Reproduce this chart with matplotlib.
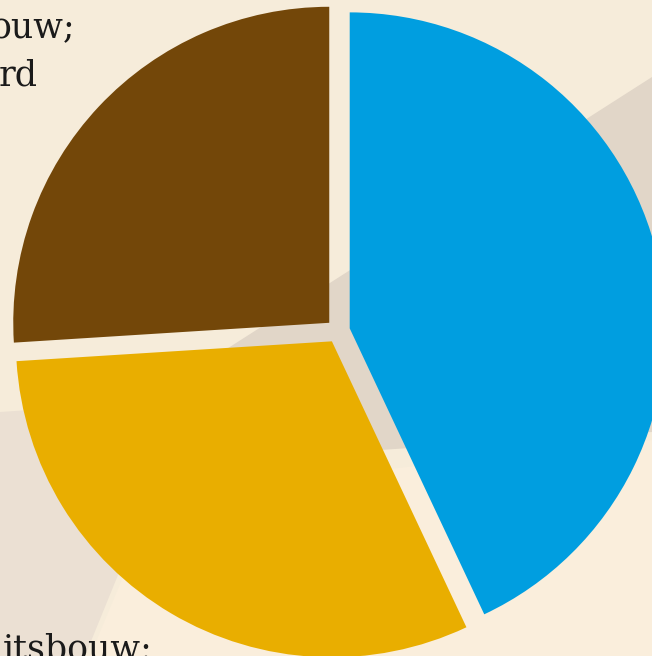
#!/usr/bin/env python3
"""Exploded pie chart on a beige, lightly shaded background (cropped view)."""

import matplotlib

matplotlib.use("Agg")
import matplotlib.pyplot as plt
from matplotlib.patches import Polygon

# slice shares (percent), clockwise from 12 o'clock
SHARES = [43, 31, 26]
SLICE_COLORS = ["#009EE0", "#E9AE00", "#734709"]

# label fragments that are cut off by the frame
LABEL_TOP = ["ouw;", "rd"]
LABEL_BOTTOM = "itsbouw:"

BG = "#F6ECDA"
W, H = 652, 656


def add_background(ax):
    ax.add_patch(Polygon([(0, 0), (W, 0), (W, H), (0, H)], closed=True,
                         fc=BG, ec="none", zorder=0))
    # lighter lower area
    ax.add_patch(Polygon([(90, 0), (W, 0), (W, H - 440), (380, H - 470), (130, H - 560)],
                         closed=True, fc="#FAEEDC", ec="none", zorder=0.5))
    # darker diagonal band behind the pie
    ax.add_patch(Polygon([(150, H - 398), (W, H - 77), (W, H - 432), (380, H - 450), (150, H - 470)],
                         closed=True, fc="#E1D6C8", ec="none", zorder=0.6))
    # soft shade bottom-left
    ax.add_patch(Polygon([(0, H - 412), (60, H - 408), (118, H - 575), (85, 0), (0, 0)],
                         closed=True, fc="#EBE0D3", ec="none", zorder=0.7))


def main():
    fig = plt.figure(figsize=(W / 100, H / 100), dpi=100)
    ax = fig.add_axes([0, 0, 1, 1])
    fig.patch.set_facecolor(BG)

    add_background(ax)

    # pie drawn in pixel units: explode is an absolute offset here
    ax.pie(
        SHARES,
        colors=SLICE_COLORS,
        startangle=90,
        counterclock=False,
        center=(338, H - 331),
        radius=316,
        explode=[12] * len(SHARES),
        wedgeprops={"linewidth": 0, "zorder": 2},
    )

    font = {"family": "DejaVu Serif", "fontsize": 25, "color": "#1A1A1A"}
    ax.text(75, H - 38, LABEL_TOP[0], ha="right", va="baseline", zorder=3, **font)
    ax.text(38, H - 85, LABEL_TOP[1], ha="right", va="baseline", zorder=3, **font)
    ax.text(153, H - 659, LABEL_BOTTOM, ha="right", va="baseline", zorder=3, **font)

    ax.set_xlim(0, W)
    ax.set_ylim(0, H)
    ax.set_aspect("auto")
    ax.axis("off")

    fig.savefig("out.png", dpi=100, facecolor=BG)
    plt.close(fig)


if __name__ == "__main__":
    main()
